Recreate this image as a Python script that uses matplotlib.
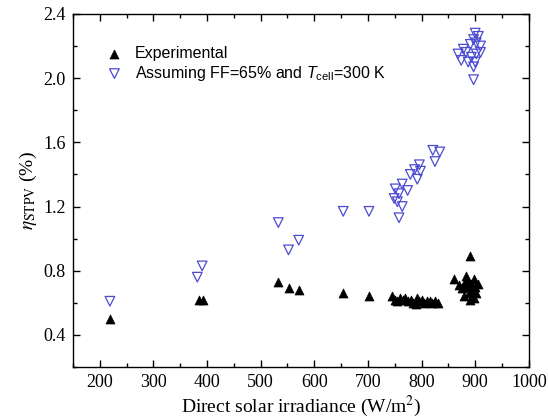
import numpy as np
import matplotlib
matplotlib.use('Agg')
import matplotlib.pyplot as plt
from matplotlib.ticker import MultipleLocator

# Experimental efficiency vs direct solar irradiance
exp_irr = [219, 385, 393, 533, 552, 571, 654, 702,
           745, 750, 755, 760, 765, 770, 775, 780, 785, 790, 792, 795,
           800, 805, 810, 815, 820, 825, 830,
           860, 870, 875, 880, 883, 885, 887, 888, 890, 890, 892, 895,
           897, 900, 902, 905, 898, 880]
exp_eff = [0.50, 0.62, 0.62, 0.73, 0.69, 0.68, 0.66, 0.64,
           0.64, 0.62, 0.61, 0.63, 0.62, 0.63, 0.61, 0.62, 0.60, 0.59, 0.63, 0.61,
           0.62, 0.60, 0.61, 0.61, 0.60, 0.61, 0.60,
           0.75, 0.71, 0.69, 0.72, 0.77, 0.74, 0.70, 0.66, 0.89, 0.62, 0.72, 0.68,
           0.75, 0.70, 0.66, 0.72, 0.63, 0.64]

# Estimated efficiency assuming FF=65% and Tcell=300 K
est_irr = [219, 382, 391, 533, 552, 571, 654, 702,
           821, 834, 825, 796, 787, 798, 779, 792, 764, 774, 751, 758,
           749, 755, 764, 758,
           900, 906, 897, 891, 902, 910, 878, 868, 883, 893, 902, 874,
           887, 900, 910, 897, 897]
est_eff = [0.61, 0.76, 0.83, 1.10, 0.93, 0.99, 1.17, 1.17,
           1.55, 1.54, 1.48, 1.46, 1.43, 1.42, 1.40, 1.37, 1.34, 1.30, 1.31, 1.28,
           1.25, 1.23, 1.20, 1.13,
           2.28, 2.26, 2.24, 2.21, 2.22, 2.20, 2.18, 2.15, 2.16, 2.13, 2.15, 2.11,
           2.10, 2.10, 2.16, 2.07, 1.99]

plt.rcParams['mathtext.fontset'] = 'custom'
plt.rcParams['mathtext.rm'] = 'Liberation Sans'
plt.rcParams['mathtext.it'] = 'Liberation Sans:italic'

fig = plt.figure(figsize=(5.48, 4.2), dpi=100)
ax = fig.add_axes([0.133, 0.126, 0.832, 0.841])

ax.scatter(exp_irr, exp_eff, marker='^', s=42, color='black',
           linewidths=0.5, label='Experimental', zorder=3)
ax.scatter(est_irr, est_eff, marker='v', s=48, facecolors='none',
           edgecolors='#4b4bd2', linewidths=0.9,
           label='Assuming FF=65% and $T_{\\mathrm{cell}}$=300 K', zorder=3)

ax.set_xlim(150, 1000)
ax.set_ylim(0.2, 2.4)
ax.xaxis.set_major_locator(MultipleLocator(100))
ax.xaxis.set_minor_locator(MultipleLocator(50))
ax.yaxis.set_major_locator(MultipleLocator(0.4))
ax.yaxis.set_minor_locator(MultipleLocator(0.2))
ax.tick_params(which='both', direction='in', top=True, right=True,
               width=1.0)
ax.tick_params(which='major', length=5, labelsize=13, pad=5)
ax.tick_params(which='minor', length=3)
for lbl in ax.get_xticklabels() + ax.get_yticklabels():
    lbl.set_fontfamily('Liberation Serif')
for sp in ax.spines.values():
    sp.set_linewidth(1.0)

ax.set_xlabel('Direct solar irradiance (W/m$^2$)', fontsize=14,
              family='Liberation Serif', math_fontfamily='stix', labelpad=2)
ax.set_ylabel('$\\eta_{\\mathrm{STPV}}$ (%)', fontsize=14,
              family='Liberation Serif', math_fontfamily='stix', labelpad=3)

leg = ax.legend(loc='upper left', bbox_to_anchor=(0.035, 0.935), frameon=False,
                prop={'family': 'Liberation Sans', 'size': 11.5},
                handletextpad=0.3, labelspacing=0.15, borderaxespad=0.2)

fig.savefig('out.png', dpi=100)
